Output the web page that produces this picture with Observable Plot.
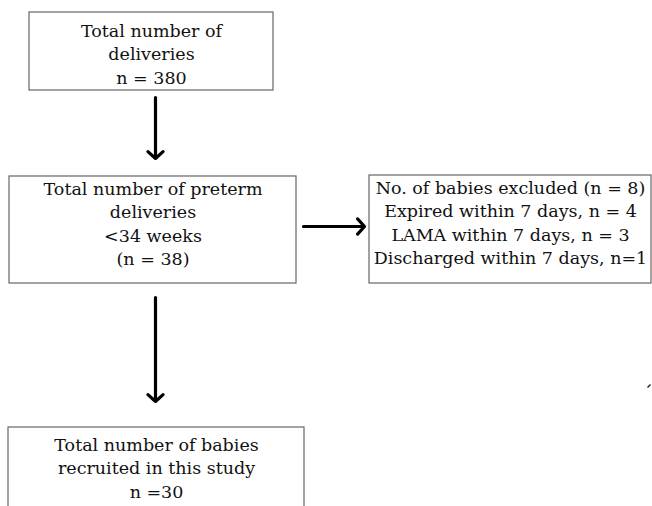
<!DOCTYPE html>
<html><head><meta charset="utf-8">
<script src="https://cdn.jsdelivr.net/npm/d3@7"></script>
<script src="https://cdn.jsdelivr.net/npm/@observablehq/plot@0.6"></script>
<style>body{margin:0;background:#fff}</style>
</head><body><div id="chart"></div>
<script>
// Flowchart content
const stages = ["deliveries", "preterm", "excluded", "recruited"];
const labels = [
  "Total number of\ndeliveries\nn = 380",
  "Total number of preterm\ndeliveries\n<34 weeks\n(n = 38)",
  "No. of babies excluded (n = 8)\nExpired within 7 days, n = 4\nLAMA within 7 days, n = 3\nDischarged within 7 days, n=1",
  "Total number of babies\nrecruited in this study\nn =30"
];
const counts = [380, 38, 8, 30];
const links = [["deliveries", "preterm"], ["preterm", "excluded"], ["preterm", "recruited"]];

// Layout (pixel frame of the diagram)
const layout = {
  deliveries: {x1: 29, x2: 273, y1: 12, y2: 90, ty: 52},
  preterm:    {x1: 9, x2: 296, y1: 176, y2: 283, ty: 222},
  excluded:   {x1: 369, x2: 651, y1: 175, y2: 283, ty: 221},
  recruited:  {x1: 8, x2: 304, y1: 427, y2: 540, ty: 466}
};
const arrowGeom = [
  {x1: 155, y1: 97, x2: 155, y2: 158},
  {x1: 303, y1: 226, x2: 364, y2: 226},
  {x1: 155, y1: 297, x2: 155, y2: 401}
];

const boxes = stages.map((s, i) => ({id: s, label: labels[i], n: counts[i], ...layout[s]}));
const arrows = links.map(([a, b], i) => ({from: a, to: b, ...arrowGeom[i]}));

const chart = Plot.plot({
  width: 652, height: 506,
  margin: 0,
  x: {domain: [0, 652], axis: null},
  y: {domain: [506, 0], axis: null},
  style: {background: "#fff", fontFamily: "'DejaVu Serif', serif"},
  marks: [
    Plot.rect(boxes, {x1: "x1", x2: "x2", y1: "y1", y2: "y2", fill: "#fff", stroke: "#666", strokeWidth: 1.2}),
    Plot.text(boxes, {x: d => (d.x1 + d.x2) / 2, y: "ty", text: "label", fontSize: 17.5, lineHeight: 23.5 / 17.5, fill: "#111", textAnchor: "middle"}),
    Plot.arrow(arrows, {x1: "x1", y1: "y1", x2: "x2", y2: "y2", stroke: "#000", strokeWidth: 3.2, headLength: 4.8, headAngle: 95}),
    Plot.link([{x1: 647, y1: 387, x2: 650, y2: 384}], {x1: "x1", y1: "y1", x2: "x2", y2: "y2", stroke: "#222", strokeWidth: 1.5})
  ]
});
document.getElementById("chart").append(chart);
</script>
</body></html>
